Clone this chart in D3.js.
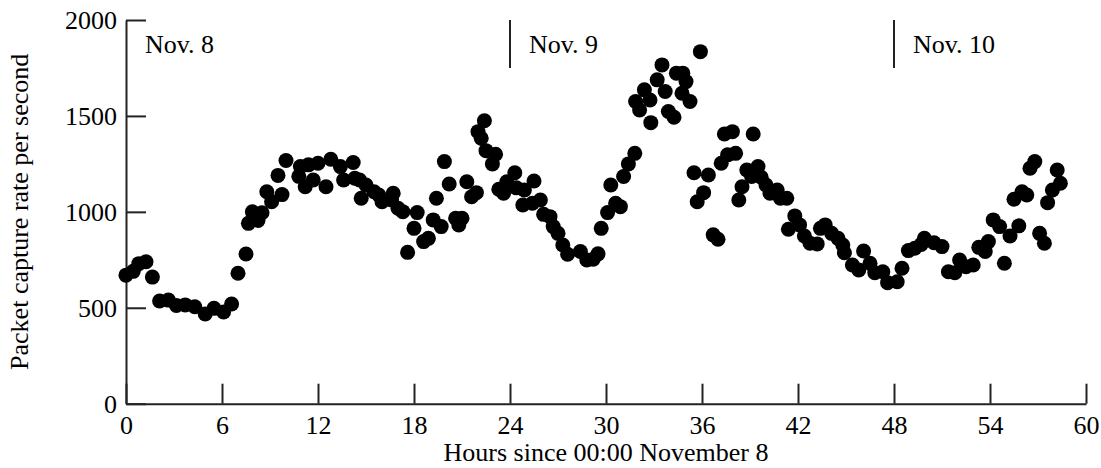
<!DOCTYPE html>
<html>
<head>
<meta charset="utf-8">
<script src="https://cdn.jsdelivr.net/npm/d3@7/dist/d3.min.js"></script>
<style>
  html, body { margin: 0; padding: 0; background: #fff; }
  svg { display: block; }
  text { font-family: "Liberation Serif", "Times New Roman", serif; fill: #000; }
</style>
</head>
<body>
<svg id="chart" width="1101" height="468"></svg>
<script>
// Hours since 00:00 November 8 for each sample
const hours = [
  0.0, 0.45, 0.8, 1.25, 1.65, 2.1, 2.65, 3.15, 3.7, 4.3, 4.95, 5.5, 6.1, 6.6,
  7.0, 7.5, 7.65, 7.9, 8.25, 8.5, 8.8, 9.1, 9.5, 9.75, 10.0, 10.8, 10.9, 11.2,
  11.4, 11.7, 12.0, 12.5, 12.8, 13.4, 13.6, 14.2, 14.3, 14.6, 14.7, 15.0, 15.5,
  15.8, 16.0, 16.6, 16.7, 17.0, 17.3, 17.6, 18.0, 18.2, 18.6, 18.9, 19.2, 19.4,
  19.7, 19.9, 20.2, 20.6, 20.8, 21.0, 21.3, 21.6, 21.9, 22.0, 22.2, 22.4, 22.5,
  22.9, 23.1, 23.3, 23.6, 23.8, 24.3, 24.4, 24.8, 24.9, 25.4, 25.5, 25.9, 26.1,
  26.5, 26.7, 27.0, 27.3, 27.6, 28.4, 28.8, 29.2, 29.5, 29.7, 30.1, 30.3, 30.6,
  30.9, 31.1, 31.4, 31.8, 31.85, 32.1, 32.4, 32.75, 32.8, 33.2, 33.5, 33.7, 33.9,
  34.25, 34.4, 34.75, 34.8, 35.0, 35.25, 35.5, 35.7, 35.9, 36.1, 36.4, 36.7,
  37.0, 37.2, 37.4, 37.6, 37.9, 38.1, 38.3, 38.5, 38.8, 39.1, 39.2, 39.5, 39.7,
  40.0, 40.25, 40.7, 40.9, 41.3, 41.4, 41.8, 42.1, 42.4, 42.75, 43.2, 43.4, 43.7,
  44.1, 44.5, 44.8, 44.9, 45.4, 45.8, 46.1, 46.5, 46.8, 47.3, 47.6, 48.2, 48.5,
  48.9, 49.3, 49.7, 49.9, 50.5, 51.0, 51.4, 51.8, 52.1, 52.5, 52.95, 53.3, 53.7,
  53.9, 54.2, 54.6, 54.9, 55.25, 55.5, 55.8, 56.0, 56.3, 56.5, 56.8, 57.1, 57.4,
  57.6, 57.9, 58.2, 58.4
];

// Packet capture rate (packets per second) for each sample
const rates = [
  670, 690, 730, 740, 660, 535, 540, 512, 515, 505, 468, 497, 478, 520,
  680, 780, 940, 1000, 955, 995, 1105, 1053, 1190, 1090, 1268, 1185, 1236, 1131,
  1245, 1166, 1253, 1131, 1274, 1236, 1166, 1257, 1175, 1166, 1071, 1140, 1105,
  1088, 1053, 1062, 1097, 1019, 1001, 789, 914, 996, 845, 862, 958, 1071,
  923, 1262, 1145, 967, 932, 967, 1157, 1079, 1100, 1418, 1384, 1475, 1319,
  1250, 1300, 1118, 1097, 1157, 1204, 1125, 1036, 1114, 1045, 1161, 1062, 987,
  975, 923, 888, 827, 779, 793, 749, 753, 781, 914, 996, 1140, 1045,
  1027, 1184, 1250, 1305, 1575, 1531, 1636, 1583, 1465, 1688, 1766, 1627, 1523,
  1493, 1723, 1618, 1723, 1679, 1575, 1204, 1053, 1835, 1100, 1192, 880,
  857, 1253, 1406, 1297, 1418, 1305, 1062, 1131, 1218, 1184, 1406, 1236, 1180,
  1140, 1097, 1114, 1071, 1071, 909, 979, 932, 874, 836, 833, 914, 932,
  888, 862, 827, 787, 723, 697, 796, 732, 683, 688, 631, 636, 706,
  798, 810, 830, 862, 839, 819, 688, 683, 749, 714, 723, 815, 793,
  845, 958, 923, 732, 874, 1066, 927, 1105, 1088, 1227, 1262, 888, 836,
  1048, 1114, 1218, 1149
];

const xTicks = [0, 6, 12, 18, 24, 30, 36, 42, 48, 54, 60];
const yTicks = [0, 500, 1000, 1500, 2000];

// Day boundaries and their labels
const dayStarts = [0, 24, 48];
const dayLabels = ["Nov. 8", "Nov. 9", "Nov. 10"];

const svg = d3.select("#chart");
const axisColor = "#222";
const fontSize = 26;

const x = d3.scaleLinear().domain([0, 60]).range([126, 1086]);
const y = d3.scaleLinear().domain([0, 2000]).range([403.7, 20]);

// Y axis with inward ticks
const yAxis = svg.append("g")
  .attr("transform", `translate(${x(0)},0)`)
  .call(d3.axisLeft(y).tickValues(yTicks).tickFormat(d3.format("d"))
    .tickSizeInner(-20).tickSizeOuter(0).tickPadding(9));

// X axis with inward ticks
const xAxis = svg.append("g")
  .attr("transform", `translate(0,${y(0)})`)
  .call(d3.axisBottom(x).tickValues(xTicks).tickFormat(d3.format("d"))
    .tickSizeInner(-20).tickSizeOuter(0).tickPadding(12));

[xAxis, yAxis].forEach(g => {
  g.attr("font-size", fontSize).attr("font-family", null);
  g.selectAll("path.domain").attr("stroke", axisColor).attr("stroke-width", 2);
  g.selectAll(".tick line").attr("stroke", axisColor).attr("stroke-width", 2);
  g.selectAll(".tick text").attr("fill", "#000");
});

// Day separators at the top of the plot
svg.append("g").selectAll("line")
  .data(dayStarts.filter(d => d > 0))
  .join("line")
  .attr("x1", d => x(d)).attr("x2", d => x(d))
  .attr("y1", y(2000)).attr("y2", y(1750))
  .attr("stroke", axisColor).attr("stroke-width", 2);

svg.append("g").selectAll("text")
  .data(dayStarts)
  .join("text")
  .attr("x", d => x(d) + 19)
  .attr("y", 53)
  .attr("font-size", fontSize)
  .text((d, i) => dayLabels[i]);

// Samples
svg.append("g").selectAll("circle")
  .data(hours.map((h, i) => [h, rates[i]]))
  .join("circle")
  .attr("cx", d => x(d[0]))
  .attr("cy", d => y(d[1]))
  .attr("r", 7.5)
  .attr("fill", "#000");

// Axis titles
svg.append("text")
  .attr("x", (x(0) + x(60)) / 2)
  .attr("y", 461)
  .attr("text-anchor", "middle")
  .attr("font-size", fontSize)
  .text("Hours since 00:00 November 8");

svg.append("text")
  .attr("transform", `translate(28,${(y(0) + y(2000)) / 2}) rotate(-90)`)
  .attr("text-anchor", "middle")
  .attr("font-size", fontSize)
  .text("Packet capture rate per second");
</script>
</body>
</html>
